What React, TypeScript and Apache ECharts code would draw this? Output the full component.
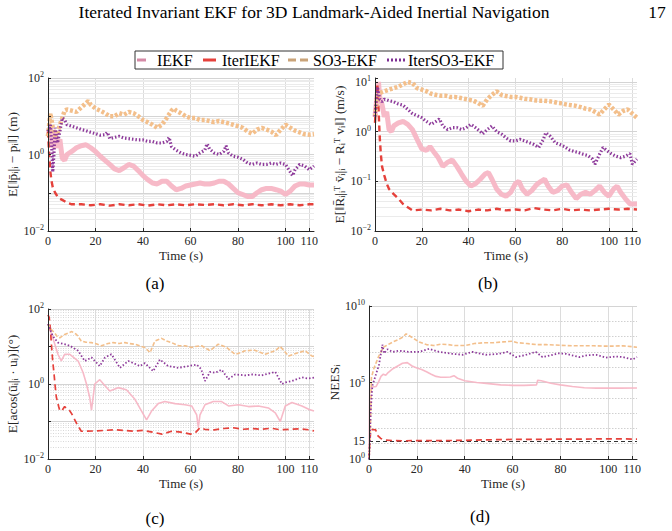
import React, { useEffect, useRef } from "react";
import * as echarts from "echarts";

const FONT = "'Liberation Serif', 'DejaVu Serif', serif";
const INK = "#262626";

const TITLE = "Iterated Invariant EKF for 3D Landmark-Aided Inertial Navigation";
const PAGE = "17";
const SERIES_NAMES = ["IEKF", "IterIEKF", "SO3-EKF", "IterSO3-EKF"];
const X_TICKS = [0, 20, 40, 60, 80, 100, 110];
const X_GRID = [20, 40, 60, 80, 100, 110];

// ---------- (a) position error (m) ----------
const aIEKF = [[0,3],[1,5],[2,1.5],[3,4],[4,1.5],[5,2.5],[6,0.8],[7,0.7],[8,1],[10,1.2],[12,1.5],[14,1.7],[16,1.8],[18,1.5],[20,1.2],[22,0.9],[24,0.7],[26,0.55],[28,0.42],[30,0.38],[32,0.45],[34,0.55],[36,0.5],[38,0.38],[40,0.28],[42,0.22],[44,0.18],[46,0.17],[48,0.2],[50,0.2],[52,0.15],[54,0.12],[56,0.13],[58,0.15],[60,0.16],[62,0.17],[64,0.18],[66,0.17],[68,0.17],[70,0.18],[72,0.2],[74,0.2],[76,0.17],[78,0.13],[80,0.1],[82,0.09],[84,0.08],[86,0.08],[88,0.1],[90,0.12],[92,0.13],[94,0.13],[96,0.12],[98,0.11],[100,0.09],[102,0.11],[104,0.15],[106,0.17],[108,0.17],[110,0.16],[112,0.16]];
const aIterIEKF = [[0,4],[0.5,1],[1,0.35],[1.5,0.2],[2,0.14],[3,0.1],[4,0.08],[5,0.07],[6,0.065],[7,0.06],[8,0.055],[10,0.05],[14,0.05],[18,0.047],[22,0.05],[26,0.046],[30,0.05],[34,0.047],[38,0.05],[42,0.046],[46,0.05],[50,0.047],[54,0.05],[58,0.047],[62,0.05],[66,0.048],[70,0.05],[74,0.047],[78,0.05],[82,0.047],[86,0.05],[90,0.047],[94,0.05],[98,0.047],[102,0.05],[106,0.047],[110,0.05],[112,0.05]];
const aSO3 = [[0,3],[1,12],[2,5],[3,3],[4,3.5],[5,6],[6,9],[7,14],[8,15],[10,14],[12,13],[14,17],[16,22],[17,25],[18,20],[20,16],[22,14],[24,12],[26,10],[28,10],[30,12],[32,11],[34,13],[36,12],[38,10],[40,8],[42,7],[44,6],[46,5],[48,6],[50,9],[52,14],[53,16],[54,14],[56,12],[58,10],[60,9],[62,9],[64,8],[66,8],[68,7.5],[70,7],[72,7.5],[74,7],[76,6.5],[78,6],[80,5.5],[82,5],[84,4],[86,3.5],[88,4.5],[90,5],[92,4.5],[94,4],[96,3.2],[98,4.5],[100,6],[102,5],[104,4.2],[106,3.8],[108,3.4],[110,3.3],[112,3.4]];
const aIterSO3 = [[0,4],[1,6],[1.5,2],[2,0.35],[2.5,1],[3,5],[4,2],[5,4],[6,9],[7,8],[8,6],[10,5.5],[12,5],[14,4.5],[16,4.2],[18,3.8],[20,3.5],[22,3.2],[24,3.3],[25,3.8],[26,2.6],[28,2.8],[30,3],[32,2.7],[34,2.6],[36,2.5],[38,2.4],[40,2.4],[42,2.2],[44,2.2],[46,2],[48,2],[50,2.2],[51,2.8],[52,1.6],[54,1.3],[56,1.1],[58,1],[60,0.95],[62,0.9],[64,1.1],[66,1.3],[67,1.9],[68,1.4],[70,1.1],[72,1],[74,1.2],[75,1.7],[76,1.1],[78,0.9],[80,0.85],[82,0.75],[84,0.6],[86,0.55],[88,0.6],[90,0.55],[92,0.55],[94,0.6],[96,0.55],[98,0.6],[100,0.55],[102,0.35],[103,0.28],[104,0.4],[106,0.55],[108,0.5],[110,0.4],[112,0.5]];

// ---------- (b) velocity error (m/s) ----------
const bIEKF = [[0,2],[1,6],[1.5,10],[2,5],[3,3.5],[4,2],[5,2.5],[6,1.1],[7,1],[8,1.3],[10,1.5],[12,1.6],[14,1.4],[16,1.1],[18,0.7],[20,0.45],[22,0.42],[23.5,0.5],[25,0.4],[27,0.3],[29,0.2],[31,0.24],[33,0.27],[35,0.2],[37,0.14],[39,0.1],[41,0.08],[43,0.09],[45,0.11],[47,0.14],[48.5,0.15],[50,0.11],[52,0.07],[54,0.055],[56,0.05],[58,0.06],[60,0.09],[61.5,0.1],[63,0.07],[65,0.055],[67,0.065],[69,0.085],[71,0.1],[72.5,0.11],[74,0.08],[76,0.06],[78,0.065],[80,0.08],[82,0.085],[84,0.06],[86,0.045],[88,0.055],[90,0.06],[92,0.055],[94,0.065],[96,0.08],[98,0.06],[100,0.05],[102,0.07],[103.5,0.08],[105,0.06],[107,0.045],[109,0.035],[112,0.035]];
const bIterIEKF = [[0,1.5],[0.5,4],[1,9],[1.5,3],[2,0.8],[2.5,0.35],[3,0.2],[4,0.13],[5,0.09],[6,0.07],[8,0.055],[10,0.045],[12,0.035],[14,0.03],[16,0.026],[20,0.027],[24,0.026],[28,0.028],[32,0.026],[36,0.027],[40,0.025],[44,0.027],[48,0.026],[52,0.028],[56,0.026],[60,0.027],[64,0.026],[68,0.029],[72,0.027],[76,0.026],[80,0.028],[84,0.026],[88,0.027],[92,0.026],[96,0.027],[100,0.028],[104,0.027],[108,0.028],[112,0.027]];
const bSO3 = [[0,2],[1,5],[2,6],[4,6.5],[6,7],[8,7.5],[10,8],[12,9],[14,10],[16,9.5],[18,7.5],[20,7],[22,6.5],[24,5.8],[26,5.5],[28,5.3],[30,5.3],[32,5],[34,5],[36,4.8],[38,4.6],[40,4.4],[42,4.2],[44,3.8],[46,3.3],[48,4.5],[50,5.5],[52,6.5],[54,5.5],[56,5.2],[58,5],[60,5],[62,4.8],[64,4.6],[66,4.5],[68,4.3],[70,4.2],[72,4.2],[74,4.1],[76,4],[78,3.8],[80,3.7],[82,3.5],[84,3.4],[86,3.3],[88,3.1],[90,2.9],[92,2.8],[94,2.5],[96,2.2],[98,2.8],[100,3.5],[102,2.8],[104,2.2],[106,2.6],[108,2.8],[110,2.3],[112,1.9]];
const bIterSO3 = [[0,2],[1,8],[2,4.5],[3,4],[4,4.5],[6,4.2],[8,4],[10,3.6],[12,3.4],[14,2.8],[16,2.3],[18,2.1],[20,1.9],[22,1.6],[24,1.4],[26,1.6],[27.5,1.8],[29,1.3],[31,1.1],[33,1.2],[35,1.2],[37,1.1],[39,1.2],[41,1.4],[43,1.2],[45,1],[46,0.9],[48,1.1],[50,1.3],[52,1],[54,0.9],[56,0.75],[58,0.65],[60,0.65],[62,0.7],[64,0.65],[66,0.6],[68,0.55],[70,0.48],[72,0.7],[73,0.95],[75,0.8],[77,0.6],[79,0.55],[81,0.5],[83,0.43],[85,0.4],[87,0.38],[89,0.35],[91,0.33],[93,0.28],[94,0.22],[96,0.35],[97.5,0.48],[99,0.42],[101,0.36],[103,0.32],[105,0.3],[107,0.32],[109,0.36],[110,0.22],[112,0.28]];

// ---------- (c) bearing error (deg) ----------
const cIEKF = [[0,40],[2,17],[4.2,6.2],[5.6,4.1],[7,6.2],[9.2,6.2],[12.7,4.1],[14.8,2],[16.2,1],[17.6,0.43],[18.3,0.2],[18.8,0.35],[19.7,1],[21.8,1.3],[24,0.9],[26,0.65],[29.5,0.8],[33,0.7],[36.6,0.39],[39.4,0.19],[41.5,0.11],[43.6,0.19],[46.4,0.3],[49.2,0.34],[53.5,0.3],[57.7,0.28],[60.5,0.26],[62.6,0.15],[63.3,0.07],[64,0.15],[66.1,0.28],[69.6,0.34],[73.1,0.34],[76,0.26],[80.2,0.28],[84.4,0.25],[88.6,0.26],[92.8,0.23],[95.7,0.17],[97.8,0.1],[99.9,0.26],[102.7,0.32],[106.9,0.26],[110,0.21],[112,0.19]];
const cIterIEKF = [[0,70],[0.5,60],[1,30],[1.5,10],[2,4],[2.5,2],[3,0.9],[3.5,0.45],[4.5,0.25],[5,0.19],[6,0.2],[7,0.25],[8,0.22],[9,0.2],[10,0.16],[11,0.12],[12,0.09],[13,0.07],[14,0.055],[16,0.055],[20,0.056],[24,0.058],[28,0.06],[32,0.058],[36,0.055],[40,0.058],[44,0.052],[48,0.046],[52,0.055],[56,0.052],[60,0.046],[62,0.05],[64,0.068],[66,0.062],[70,0.06],[74,0.065],[78,0.068],[82,0.062],[86,0.065],[90,0.062],[94,0.066],[98,0.06],[102,0.062],[106,0.064],[110,0.06],[112,0.056]];
const cSO3 = [[0,40],[1,30],[2.8,23],[4,18],[5,17],[7,21],[10,25],[12,21],[14,14],[16,13],[18.3,12.7],[20,12],[22.5,10.5],[25.3,12],[27.4,12.7],[30,12],[32.4,12.7],[34,12],[36.6,11.5],[40.8,9.4],[43,6.9],[45,14],[47.8,16.5],[50,14],[52,12.7],[55,10.5],[57.7,10.5],[60.5,9.4],[62,10],[64.7,10.5],[68.2,7.7],[71.7,11.5],[75.3,9.4],[78.8,6.2],[81,6.8],[83,7.7],[87,8],[91.4,6.2],[95.7,7.7],[97.8,10],[101.3,5.6],[105.5,6.9],[108.3,7.7],[111.1,5.6],[112,5.4]];
const cIterSO3 = [[0,40],[2,19],[4.2,12.7],[7,11.5],[9.2,10.5],[12.7,7.7],[15.5,4.1],[18.3,5.1],[21.8,3],[24,5.1],[26.7,6.2],[30.3,2.7],[33.8,4.1],[36,3.6],[38.7,3],[40.8,3.6],[44.3,2.2],[47.1,4.5],[50.6,3],[54.9,2.7],[59,3],[62.6,3.3],[64.5,2.5],[66.1,1.2],[68.2,2.1],[70.5,2],[73.1,2.4],[76,1.35],[78.8,1.8],[83,1.7],[86,1.8],[90,1.7],[93,1.9],[95.7,2.1],[98.5,1],[100,1.1],[102.7,1.2],[106.9,1.5],[109.7,1.4],[112,1.48]];

// ---------- (d) NEES ----------
const dIEKF = [[0,1],[0.3,40000],[1,50000],[3,55000],[4,110000],[5,250000],[6,350000],[7,300000],[8,450000],[10,800000],[12,1200000],[14,1800000],[16,2000000],[18,1200000],[20,900000],[22,700000],[24,500000],[26,350000],[28,250000],[30,220000],[32,220000],[34,230000],[35.5,280000],[37,190000],[40,130000],[45,100000],[50,85000],[55,70000],[60,65000],[65,65000],[70,70000],[70.5,140000],[72,130000],[76,90000],[80,70000],[85,55000],[90,45000],[95,43000],[100,43000],[105,43000],[112,44000]];
const dIterIEKF = [[0,1],[0.3,8],[0.7,80],[1.5,85],[2.8,80],[3.5,36],[4.9,22],[7,17],[10,16],[15,15.5],[20,16],[30,16],[40,16.5],[50,18],[60,19],[70,19],[80,20],[90,20],[100,21],[112,20]];
const dSO3 = [[0,1],[0.5,20],[1,200000],[2,800000],[3,2e6],[4,5e6],[5,1e7],[6,2e7],[8,3e7],[10,4.5e7],[12,6e7],[14,9e7],[15.5,1.5e8],[17,1.1e8],[19,7e7],[21,4.4e7],[24,3e7],[27,2.6e7],[30,3.2e7],[33,3e7],[36,2.6e7],[40,2.6e7],[44,3.5e7],[48,4e7],[52,4e7],[56,4.5e7],[60,5e7],[62,4e7],[66,3.5e7],[70,3e7],[74,3e7],[78,2.8e7],[82,2.6e7],[86,2.5e7],[90,2.5e7],[94,2.5e7],[98,2.4e7],[102,2.4e7],[106,2.5e7],[110,2.2e7],[112,2e7]];
const dIterSO3 = [[0,1],[0.3,8],[0.7,1200],[1.4,6e4],[2.8,3e5],[4.2,1.5e6],[5.6,3e7],[6.3,8e6],[7.7,1.5e7],[9.8,1e7],[12.6,1.2e7],[16.7,1e7],[20.9,1e7],[25.1,1.6e7],[29.3,1e7],[34.9,7.5e6],[39.1,6.5e6],[43.2,1e7],[48.8,6.5e6],[54.4,7.5e6],[57.9,1e7],[61.4,4.6e6],[65,6e6],[69.7,1e7],[72.5,4.6e6],[76,6e6],[79,8e6],[82.3,7.5e6],[87.9,4.6e6],[91,6e6],[94.9,6.5e6],[99,4.2e6],[103,5e6],[106,4.6e6],[110.2,3.2e6],[112,4.6e6]];
const NEES_REF = 15;

const PANEL_DATA = [
  [aIEKF, aIterIEKF, aSO3, aIterSO3],
  [bIEKF, bIterIEKF, bSO3, bIterSO3],
  [cIEKF, cIterIEKF, cSO3, cIterSO3],
  [dIEKF, dIterIEKF, dSO3, dIterSO3],
];
const Y_NAMES = [
  "E[\u2016p\u0304\u1D62|\u1D62 \u2212 p\u1D62\u2016] (m)",
  "E[\u2016R\u0304\u1D62|\u1D62\u1D40 v\u0304\u1D62|\u1D62 \u2212 R\u1D62\u1D40 v\u1D62\u2016] (m/s)",
  "E[acos(u\u0304\u1D62|\u1D62 \u00B7 u\u1D62)](\u00B0)",
  "NEES\u1D62",
];
const CAPTIONS = ["(a)", "(b)", "(c)", "(d)"];

const COLORS = ["#f7b6c5", "#e5413b", "#f3bf8b", "#8e3b9b"];
const LEGEND_COLORS = ["#d48aa6", "#e5413b", "#c9a379", "#7d2f93"];

const GRIDS = [
  { left: 48, top: 78, width: 266, height: 153 },
  { left: 375, top: 78, width: 262, height: 153 },
  { left: 48, top: 309, width: 266, height: 150 },
  { left: 369, top: 306, width: 268, height: 153 },
];
const Y_RANGE = [
  [0.01, 100],
  [0.01, 12],
  [0.01, 100],
  [1, 1e10],
];
const Y_LABEL_EXP = [
  [-2, 0, 2],
  [-2, -1, 0, 1],
  [-2, 0, 2],
  [0, 5, 10],
];

function supFormatter(allowed: number[]) {
  return (v: number) => {
    const l = Math.log10(v);
    const e = Math.round(l);
    if (Math.abs(l - e) > 1e-6 || !allowed.includes(e)) return "";
    return `{b|10}{s|${e < 0 ? "\u2212" + -e : e}}`;
  };
}

const RICH = {
  b: { fontSize: 12, fontFamily: FONT, color: INK, lineHeight: 15 },
  s: { fontSize: 8, fontFamily: FONT, color: INK, verticalAlign: "top", lineHeight: 9 },
};

function decadeLines(lo: number, hi: number) {
  const out: number[] = [];
  for (let e = Math.round(Math.log10(lo)); e <= Math.round(Math.log10(hi)); e++) out.push(Math.pow(10, e));
  return out;
}

function gridMarkLine(gi: number) {
  const [lo, hi] = Y_RANGE[gi];
  const data: any[] = X_GRID.map((x) => ({ xAxis: x, lineStyle: { color: "#dcdcdc", width: 1, type: "solid" } }));
  const decs = decadeLines(lo, hi);
  if (gi < 3) {
    decs.forEach((d) => {
      if (d <= hi && d > lo) data.push({ yAxis: d, lineStyle: { color: "#d4d4d4", width: 1, type: "solid" } });
      [2, 3, 4, 5, 6, 7, 8, 9].forEach((k) => {
        const v = k * d;
        if (v < hi) data.push({ yAxis: v, lineStyle: { color: gi === 2 ? "#d8d8d8" : "#ebebeb", width: 1, type: gi === 2 ? [1, 1.5] : "solid" } });
      });
    });
  } else {
    decs.forEach((d) => {
      const e = Math.round(Math.log10(d));
      if (e === 0) return;
      const major = e % 5 === 0;
      data.push({ yAxis: d, lineStyle: { color: major ? "#d4d4d4" : "#d0d0d0", width: 1, type: major ? "solid" : [1.5, 1.5] } });
    });
    data.push({
      yAxis: NEES_REF,
      lineStyle: { color: "#333", width: 1, type: [4, 3] },
      label: { show: true, position: "start", formatter: String(NEES_REF), fontFamily: FONT, fontSize: 12, color: INK, distance: 4 },
    });
  }
  return { silent: true, symbol: ["none", "none"], z: 1, label: { show: false }, emphasis: { disabled: true }, data };
}

function lineStyleFor(si: number, gi: number) {
  const noisy = gi < 2;
  const color = COLORS[si];
  if (si === 0) return { color, width: noisy ? 5 : 1.6, type: "solid", opacity: 0.95 };
  if (si === 1) return { color, width: noisy ? 2.4 : 1.7, type: [6, 4] };
  if (si === 2) return { color, width: noisy ? 4.5 : 1.6, type: noisy ? [3, 2] : [4, 2] };
  return { color, width: noisy ? 3.2 : 1.8, type: [1.5, 2] };
}

export default function App() {
  const ref = useRef<HTMLDivElement>(null);
  useEffect(() => {
    if (!ref.current) return;
    const chart = echarts.init(ref.current, undefined, { renderer: "svg" });

    const xAxis = GRIDS.map((_, gi) => ({
      type: "value",
      gridIndex: gi,
      min: 0,
      max: 112,
      z: 10,
      name: "Time (s)",
      nameLocation: "middle",
      nameGap: 18,
      nameTextStyle: { fontFamily: FONT, fontSize: 13, color: INK },
      axisLine: { show: true, onZero: false, lineStyle: { color: INK, width: 1 } },
      axisTick: { show: true, inside: true, length: 3, customValues: X_TICKS, lineStyle: { color: INK } },
      axisLabel: {
        customValues: X_TICKS,
        fontFamily: FONT,
        fontSize: 12,
        color: INK,
        margin: 4,
        formatter: (v: number) => (X_TICKS.includes(v) ? String(v) : ""),
      },
      splitLine: { show: false },
    }));

    const yAxis = GRIDS.map((_, gi) => ({
      type: "log",
      logBase: 10,
      gridIndex: gi,
      min: Y_RANGE[gi][0],
      max: Y_RANGE[gi][1],
      z: 10,
      ...(gi === 3 ? { interval: 5 } : {}),
      name: Y_NAMES[gi],
      nameLocation: "middle",
      nameRotate: 90,
      nameGap: gi === 1 ? 29 : gi === 3 ? 24 : 27,
      nameTextStyle: { fontFamily: FONT, fontSize: 13.5, color: INK },
      axisLine: { show: true, onZero: false, lineStyle: { color: INK, width: 1 } },
      axisTick: { show: true, inside: true, length: 3, lineStyle: { color: INK } },
      axisLabel: { formatter: supFormatter(Y_LABEL_EXP[gi]), rich: RICH, margin: 4 },
      splitLine: { show: false },
    }));

    const series: any[] = [];
    PANEL_DATA.forEach((panel, gi) => {
      panel.forEach((data, si) => {
        series.push({
          type: "line",
          name: SERIES_NAMES[si],
          xAxisIndex: gi,
          yAxisIndex: gi,
          data,
          showSymbol: false,
          symbol: "none",
          clip: true,
          lineStyle: lineStyleFor(si, gi),
          z: 2 + si,
          ...(si === 0 ? { markLine: gridMarkLine(gi) } : {}),
        });
      });
    });

    const legendItems: any[] = [
      { type: "rect", shape: { x: 135, y: 51, width: 368, height: 18 }, style: { fill: "#fff", stroke: "#333", lineWidth: 1 } },
      { type: "line", shape: { x1: 137, y1: 60, x2: 146, y2: 60 }, style: { stroke: LEGEND_COLORS[0], lineWidth: 3 } },
      { type: "text", x: 157, y: 60, style: { text: SERIES_NAMES[0], font: `16px ${FONT}`, fill: "#000", verticalAlign: "middle" } },
      { type: "line", shape: { x1: 203, y1: 60, x2: 216, y2: 60 }, style: { stroke: LEGEND_COLORS[1], lineWidth: 3 } },
      { type: "text", x: 222, y: 60, style: { text: SERIES_NAMES[1], font: `16px ${FONT}`, fill: "#000", verticalAlign: "middle" } },
      { type: "line", shape: { x1: 288, y1: 60, x2: 310, y2: 60 }, style: { stroke: LEGEND_COLORS[2], lineWidth: 3, lineDash: [8, 4] } },
      { type: "text", x: 313, y: 60, style: { text: SERIES_NAMES[2], font: `16px ${FONT}`, fill: "#000", verticalAlign: "middle" } },
      { type: "line", shape: { x1: 387, y1: 60, x2: 405, y2: 60 }, style: { stroke: LEGEND_COLORS[3], lineWidth: 3, lineDash: [2, 2] } },
      { type: "text", x: 408, y: 60, style: { text: SERIES_NAMES[3], font: `16px ${FONT}`, fill: "#000", verticalAlign: "middle" } },
    ];

    const captionPos = [
      [155, 283],
      [488, 283],
      [155, 518],
      [480, 516],
    ];

    const graphic: any[] = [
      { type: "text", x: 314, y: 12, style: { text: TITLE, font: `17.5px ${FONT}`, fill: "#000", align: "center", verticalAlign: "middle" } },
      { type: "text", x: 657, y: 12, style: { text: PAGE, font: `17.5px ${FONT}`, fill: "#000", align: "center", verticalAlign: "middle" } },
      ...legendItems,
      ...CAPTIONS.map((c, i) => ({
        type: "text",
        x: captionPos[i][0],
        y: captionPos[i][1],
        style: { text: c, font: `17px ${FONT}`, fill: "#000", align: "center", verticalAlign: "middle" },
      })),
    ];

    chart.setOption({
      animation: false,
      backgroundColor: "#fff",
      textStyle: { fontFamily: FONT },
      grid: GRIDS.map((g) => ({ ...g, containLabel: false })),
      xAxis,
      yAxis,
      series,
      graphic,
    });
    return () => chart.dispose();
  }, []);
  return <div ref={ref} style={{ position: "absolute", left: 0, top: 0, width: 672, height: 531, background: "#fff" }} />;
}
